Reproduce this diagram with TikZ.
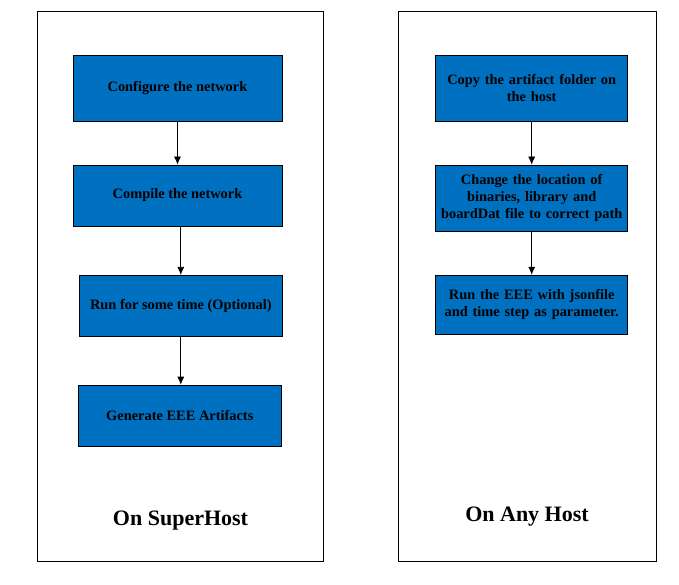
\documentclass[tikz,border=0pt]{standalone}
\usepackage{fontspec}
\setmainfont{Liberation Serif}
\usepackage{xcolor}
\usetikzlibrary{arrows.meta}
\definecolor{stepblue}{HTML}{0070C0}

\begin{document}
\begin{tikzpicture}[x=1pt,y=-1pt,
  stepbox/.style={draw,fill=stepblue,line width=.75pt,inner sep=2pt,
    font=\fontsize{14.4}{16.7}\selectfont\bfseries,align=center},
  panel/.style={draw,line width=.75pt},
  flow/.style={-{Latex[length=8pt,width=7pt]},line width=.75pt}]
\useasboundingbox (0,0) rectangle (679,585);

% the two panels
\draw[panel] (37,11) rectangle (323,561);
\draw[panel] (398,11) rectangle (656,561);

% left panel
\node[stepbox,minimum width=209pt,minimum height=66pt] (conf) at (177.5,88) {Configure the network};
\node[stepbox,minimum width=209pt,minimum height=61pt] (comp) at (177.5,195.5) {Compile the network};
\node[stepbox,minimum width=203pt,minimum height=61pt] (run) at (180.8,305.8) {Run for some time (Optional)};
\node[stepbox,minimum width=203pt,minimum height=61pt] (gen) at (179.8,415.6) {Generate EEE Artifacts};
\node[font=\fontsize{22}{26}\selectfont\bfseries] (super) at (180.5,521) {On SuperHost};

\draw[flow] (conf.south) -- (comp.north);
\draw[flow] (run.north |- comp.south) -- (run.north);
\draw[flow] (run.south) -- (run.south |- gen.north);

% right panel
\node[stepbox,minimum width=191pt,minimum height=66pt,text width=188pt] (copy) at (531.7,88) {Copy the artifact folder on\\the host};
\node[stepbox,minimum width=191pt,minimum height=66pt,text width=188pt] (chg) at (531.7,198) {Change the location of\\binaries, library and\\boardDat file to correct path};
\node[stepbox,minimum width=191pt,minimum height=59pt,text width=188pt] (exe) at (531.7,304.7) {Run the EEE with jsonfile\\and time step as parameter.};
\node[font=\fontsize{22}{26}\selectfont\bfseries] (any) at (527,517) {On Any Host};

\draw[flow] (copy.south) -- (chg.north);
\draw[flow] (chg.south) -- (exe.north);
\end{tikzpicture}
\end{document}
